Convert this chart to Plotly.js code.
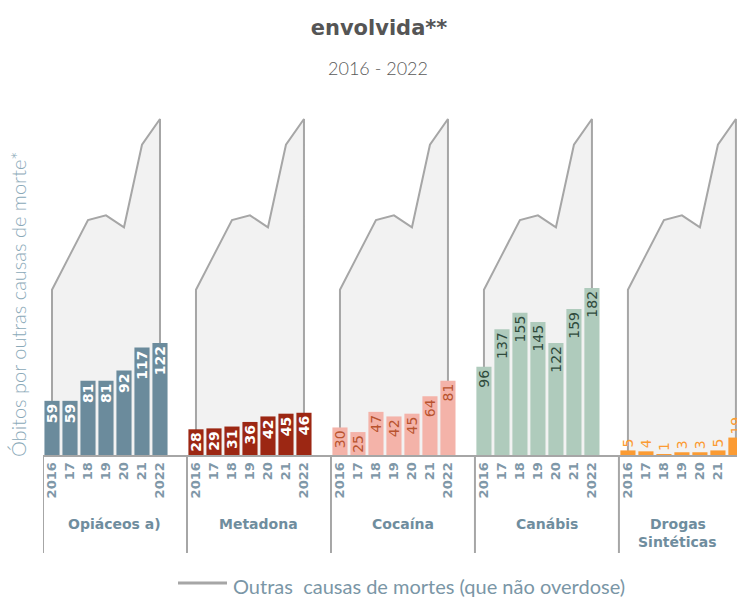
<!DOCTYPE html>
<html>
<head>
<meta charset="utf-8">
<script src="https://cdn.plot.ly/plotly-3.0.1.min.js"></script>
<style>html,body{margin:0;padding:0;background:#fff;}#chart{width:737px;height:597px;}</style>
</head>
<body>
<div id="chart"></div>
<script>
// ---- data ----
const years = ['2016', '17', '18', '19', '20', '21', '2022'];
const groups = ['Opiáceos a)', 'Metadona', 'Cocaína', 'Canábis', 'Drogas<br>Sintéticas'];
const opiaceos = [59, 59, 81, 81, 92, 117, 122];
const metadona = [28, 29, 31, 36, 42, 45, 46];
const cocaina = [30, 25, 47, 42, 45, 64, 81];
const canabis = [96, 137, 155, 145, 122, 159, 182];
const sinteticas = [5, 4, 1, 3, 3, 5, 19];
const outrasCausas = [180, 218, 256, 261, 248, 338, 366];
const legendName = 'Outras  causas de mortes (que não overdose)';
const yTitle = 'Óbitos por outras causas de morte*';

// ---- styling ----
const series = [opiaceos, metadona, cocaina, canabis, sinteticas];
const barColors = ['#6b8b9c', '#9c2713', '#f4b3a9', '#afcbbc', '#fb9b33'];
const labelColors = ['#ffffff', '#ffffff', '#b9532f', '#2f4a3c', '#fb9b33'];
const labelWeights = ['bold', 'bold', 'normal', 'normal', 'normal'];
const textPos = ['inside', 'inside', 'inside', 'inside', 'outside'];
const slot = years.length + 1;
const xMax = 38.06;
const plotH = 355;
const axisGray = '#a6a6a6';
const tickColor = '#7f98a8';
const baseFont = 'DejaVu Sans';

const traces = [];
const tickvals = [], ticktext = [];
const shapes = [], annotations = [];

groups.forEach((g, gi) => {
  const xs = years.map((_, i) => gi * slot + i);
  xs.forEach((x, i) => { tickvals.push(x); ticktext.push(years[i]); });
  // background area (other causes)
  traces.push({
    type: 'scatter', mode: 'lines', xaxis: 'x', yaxis: 'y',
    x: [xs[0]].concat(xs, [xs[xs.length - 1]]),
    y: [0].concat(outrasCausas, [0]),
    fill: 'toself', fillcolor: '#f2f2f2',
    line: {color: axisGray, width: 2},
    hoverinfo: 'skip', showlegend: false
  });
  // bars
  traces.push({
    type: 'bar', xaxis: 'x2', yaxis: 'y2',
    x: xs, y: series[gi], width: 0.84,
    marker: {color: barColors[gi]},
    text: series[gi].map(String),
    textposition: textPos[gi],
    insidetextanchor: 'end',
    textangle: -90,
    constraintext: 'none',
    cliponaxis: false,
    textfont: {family: baseFont, size: 14, color: labelColors[gi], weight: labelWeights[gi]},
    showlegend: false, name: groups[gi]
  });
  // divider
  shapes.push({type: 'line', xref: 'x', yref: 'paper', x0: gi * slot - 0.5, x1: gi * slot - 0.5,
    y0: 0, y1: -0.276, line: {color: axisGray, width: 2}});
  // group label (one annotation per line)
  const gStart = gi * slot - 0.5, gEnd = Math.min((gi + 1) * slot - 0.5, xMax);
  groups[gi].split('<br>').forEach((line, li) => {
    annotations.push({
      xref: 'x', yref: 'paper', x: (gStart + gEnd) / 2, y: -(69 + 18 * li) / plotH, yanchor: 'middle',
      text: line, showarrow: false,
      font: {family: baseFont, size: 14, color: '#6f8d9e', weight: 'bold'}
    });
  });
});

// y-axis title
annotations.push({
  xref: 'paper', yref: 'paper', x: -25 / 694, y: 150 / plotH, xanchor: 'center', yanchor: 'middle',
  textangle: -90, text: yTitle, showarrow: false,
  font: {family: 'Lato', size: 20, color: '#8aa9b8', weight: 300}
});
// subtitle
annotations.push({
  xref: 'paper', yref: 'paper', x: (378 - 43) / 694, y: (455 - 68) / plotH, xanchor: 'center', yanchor: 'middle',
  text: '2016 - 2022', showarrow: false,
  font: {family: 'Lato', size: 18, color: '#595959', weight: 300}
});
// legend (manual)
shapes.push({type: 'line', xref: 'paper', yref: 'paper', x0: (178 - 43) / 694, x1: (227 - 43) / 694,
  y0: -128 / plotH, y1: -128 / plotH, line: {color: axisGray, width: 3}});
annotations.push({
  xref: 'paper', yref: 'paper', x: (231 - 43) / 694, y: -131 / plotH, xanchor: 'left', yanchor: 'middle',
  text: legendName, showarrow: false,
  font: {family: 'Lato', size: 20, color: '#7a96a6'}
});

const layout = {
  width: 737, height: 597,
  margin: {l: 43, r: 0, t: 100, b: 142},
  paper_bgcolor: '#fff', plot_bgcolor: '#fff',
  barmode: 'overlay',
  showlegend: false,
  title: {
    text: 'envolvida**', x: 379 / 737, xref: 'container', xanchor: 'center',
    y: 1 - 28 / 597, yref: 'container', yanchor: 'middle',
    font: {family: baseFont, size: 21, color: '#555555', weight: 'bold'}
  },
  xaxis: {
    range: [-0.5, xMax], tickvals: tickvals, ticktext: ticktext, tickangle: -90,
    showline: true, linecolor: axisGray, linewidth: 2, ticks: '', showgrid: false, zeroline: false,
    tickfont: {family: baseFont, size: 13, color: tickColor, weight: 'bold'}
  },
  yaxis: {range: [0, 386.7], visible: false, showgrid: false, zeroline: false},
  xaxis2: {range: [-0.5, xMax], overlaying: 'x', visible: false},
  yaxis2: {range: [0, 386.7], overlaying: 'y', visible: false},
  shapes: shapes,
  annotations: annotations
};

Plotly.newPlot('chart', traces, layout, {displayModeBar: false, responsive: false});
</script>
</body>
</html>
